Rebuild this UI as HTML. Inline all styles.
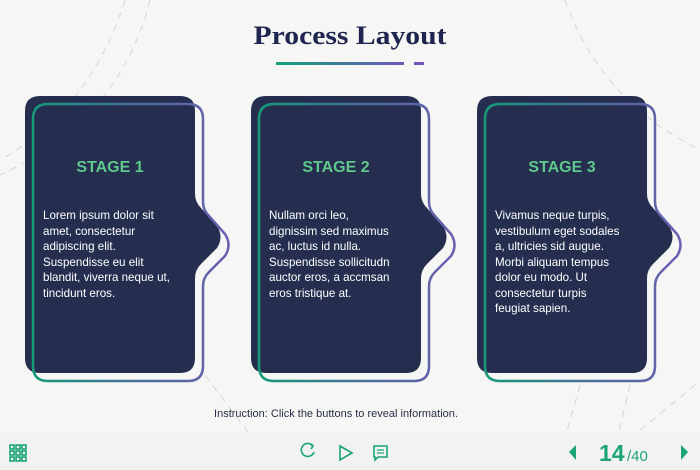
<!DOCTYPE html>
<html><head><meta charset="utf-8"><style>
html,body{margin:0;padding:0;background:#f6f6f4;}
svg{display:block;}
</style></head><body>
<svg width="700" height="470" viewBox="0 0 700 470" xmlns="http://www.w3.org/2000/svg">
<defs>
<linearGradient id="g" x1="0" y1="0" x2="1" y2="0">
<stop offset="0" stop-color="#159a78"/><stop offset="0.55" stop-color="#4a6e9e"/><stop offset="1" stop-color="#6b5fb0"/>
</linearGradient>
<linearGradient id="u" x1="0" y1="0" x2="1" y2="0">
<stop offset="0" stop-color="#0fa37a"/><stop offset="1" stop-color="#7057b8"/>
</linearGradient>
<path id="dark" d="M40 96 H180 Q195 96 195 111 V194 Q195 202 201 208 L217 226 Q224 237 217 248 L201 264 Q195 270 195 278 V358 Q195 373 180 373 H40 Q25 373 25 358 V111 Q25 96 40 96 Z"/>
<path id="line" d="M48 104 H188 Q203 104 203 119 V202 Q203 210 209 216 L225 234 Q232 245 225 256 L209 272 Q203 278 203 286 V366 Q203 381 188 381 H48 Q33 381 33 366 V119 Q33 104 48 104 Z"/>
</defs>
<rect width="700" height="470" fill="#f6f6f4"/>
<rect y="432" width="700" height="38" fill="#f2f2f0"/>
<g fill="none" stroke="#d4d4da" stroke-width="1" stroke-dasharray="7 6">
<path d="M125 0 Q90 110 0 160"/>
<path d="M150 0 Q120 120 0 175"/>
<path d="M565 0 Q600 100 700 150"/>
<path d="M205 375 L250 435"/>
<path d="M580 385 L566 435"/>
<path d="M630 385 L618 435"/>
<path d="M640 430 Q690 390 700 380"/>
</g>
<text x="350" y="44" text-anchor="middle" font-family="Liberation Serif, serif" font-weight="bold" font-size="26" fill="#1f2550" textLength="193" lengthAdjust="spacingAndGlyphs">Process Layout</text>
<rect x="276" y="62" width="128" height="3" fill="url(#u)"/>
<rect x="414" y="62" width="10" height="3" fill="#7057b8"/>
<g font-family="Liberation Sans, sans-serif">
<g>
<use href="#dark" fill="#262e50"/>
<use href="#line" fill="none" stroke="url(#g)" stroke-width="2.5"/>
<text x="110" y="172" text-anchor="middle" font-weight="bold" font-size="16" fill="#5ec98a">STAGE 1</text>
<g font-size="11.6" fill="#fff"><text x="43" y="219">Lorem ipsum dolor sit</text><text x="43" y="235">amet, consectetur</text><text x="43" y="250">adipiscing elit.</text><text x="43" y="266">Suspendisse eu elit</text><text x="43" y="281">blandit, viverra neque ut,</text><text x="43" y="297">tincidunt eros.</text></g>
</g>
<g transform="translate(226 0)">
<use href="#dark" fill="#262e50"/>
<use href="#line" fill="none" stroke="url(#g)" stroke-width="2.5"/>
<text x="110" y="172" text-anchor="middle" font-weight="bold" font-size="16" fill="#5ec98a">STAGE 2</text>
<g font-size="11.6" fill="#fff"><text x="43" y="219">Nullam orci leo,</text><text x="43" y="235">dignissim sed maximus</text><text x="43" y="250">ac, luctus id nulla.</text><text x="43" y="266">Suspendisse sollicitudn</text><text x="43" y="281">auctor eros, a accmsan</text><text x="43" y="297">eros tristique at.</text></g>
</g>
<g transform="translate(452 0)">
<use href="#dark" fill="#262e50"/>
<use href="#line" fill="none" stroke="url(#g)" stroke-width="2.5"/>
<text x="110" y="172" text-anchor="middle" font-weight="bold" font-size="16" fill="#5ec98a">STAGE 3</text>
<g font-size="11.6" fill="#fff"><text x="43" y="219">Vivamus neque turpis,</text><text x="43" y="235">vestibulum eget sodales</text><text x="43" y="250">a, ultricies sid augue.</text><text x="43" y="266">Morbi aliquam tempus</text><text x="43" y="281">dolor eu modo. Ut</text><text x="43" y="297">consectetur turpis</text><text x="43" y="312">feugiat sapien.</text></g>
</g>
<text x="336" y="417" text-anchor="middle" font-size="11" fill="#2a2f4a">Instruction: Click the buttons to reveal information.</text>
<g fill="none" stroke="#1aa572" stroke-width="1.6">
<rect x="10" y="445" width="4" height="4"/><rect x="16" y="445" width="4" height="4"/><rect x="22" y="445" width="4" height="4"/>
<rect x="10" y="451" width="4" height="4"/><rect x="16" y="451" width="4" height="4"/><rect x="22" y="451" width="4" height="4"/>
<rect x="10" y="457" width="4" height="4"/><rect x="16" y="457" width="4" height="4"/><rect x="22" y="457" width="4" height="4"/>
<path d="M313 446 A6.5 6.5 0 1 0 314 452"/>
<path d="M310 444 L313 446 L311 449"/>
<path d="M340 446 L352 453 L340 460 Z"/>
<path d="M374 446 H387 V457 H378 L375 460 V457 H374 Z"/>
<path d="M377 450 H384 M377 453 H384" stroke-width="1.2"/>
</g>
<path d="M576 445 L569 452 L576 460 Z" fill="#1aa572"/>
<path d="M681 445 L688 452 L681 460 Z" fill="#1aa572"/>
<text x="599" y="461" font-weight="bold" font-size="23" fill="#1aa572">14</text>
<text x="627" y="461" font-size="15" fill="#1aa572">/40</text>
</g>
</svg>
</body></html>
